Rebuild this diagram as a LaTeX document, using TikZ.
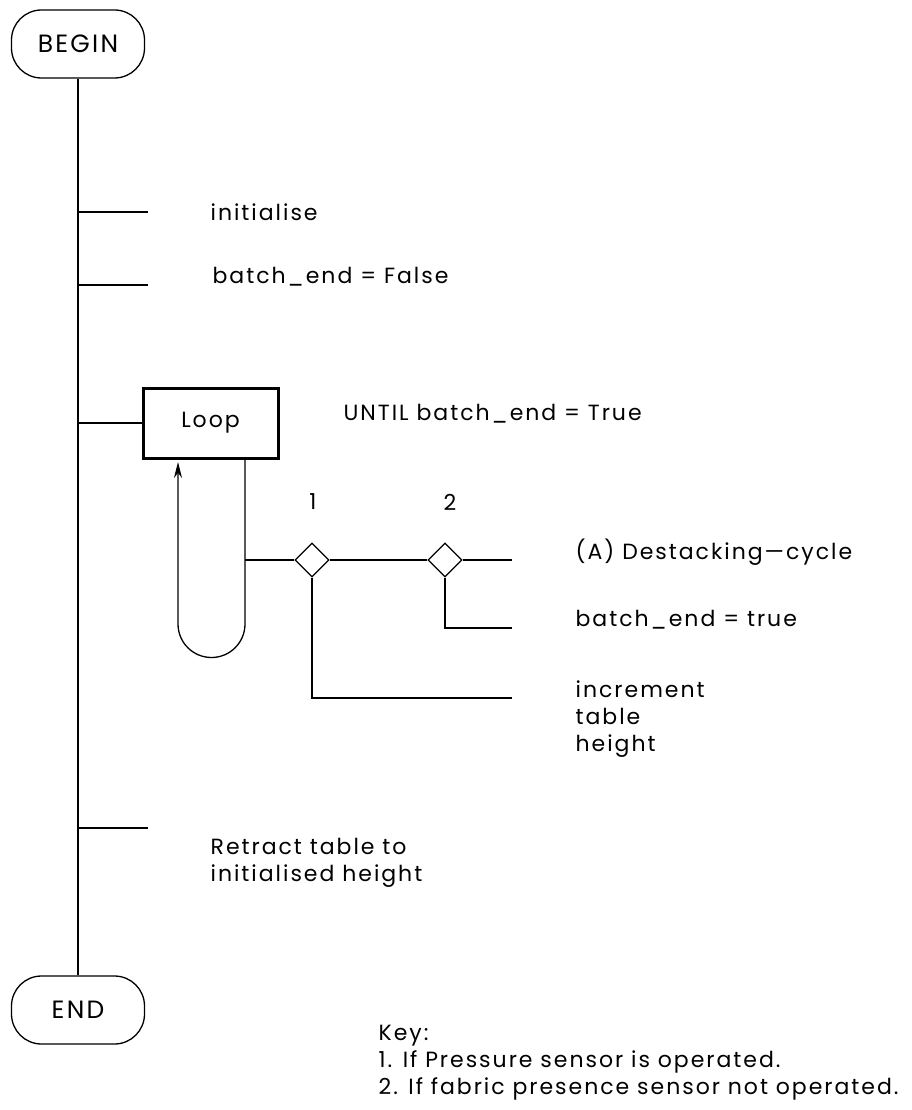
\documentclass[tikz,border=0pt]{standalone}
\usepackage{fontspec}
\setmainfont{Poppins}[LetterSpace=9]
\usetikzlibrary{shapes.geometric,arrows.meta}
\tikzset{
  txt/.style={font=\fontsize{22}{27}\selectfont, inner sep=0pt, anchor=west, align=left},
  term/.style={draw, rounded corners=30pt, minimum width=133pt, minimum height=68pt, font=\fontsize{25}{28}\selectfont, inner sep=0pt},
  loopbox/.style={draw, line width=3pt, minimum width=135pt, minimum height=70pt, font=\fontsize{22}{26}\selectfont, inner sep=0pt},
  dia/.style={draw, diamond, minimum size=34pt, inner sep=0pt}
}
\begin{document}
\begin{tikzpicture}[x=1pt,y=-1pt,line width=1.3pt]
\useasboundingbox (0,0) rectangle (912,1110);
\node[term] (begin) at (78,44) {BEGIN};
\node[term] (end) at (78,1010) {END};
\draw (begin.south) -- (end.north);

\coordinate (t1) at (78,212);
\coordinate (t2) at (78,285);
\coordinate (t4) at (78,828);
\draw (t1) -- ++(70,0);
\draw (t2) -- ++(70,0);
\draw (t4) -- ++(70,0);

\node[txt] (init) at (210,212) {initialise};
\node[txt] (bef) at (212,277) {batch\_end = False};
\node[txt, anchor=north west] (retr) at (210,838) {Retract table to\\initialised height};

\node[loopbox] (loop) at (210.5,423) {Loop};
\draw (loop.west -| begin.south) -- (loop.west);
\node[txt] (until) at (343,414) {UNTIL batch\_end = True};

\coordinate (uL) at (178,462);
\coordinate (uR) at (245,458);
\coordinate (br) at (245,560);
\draw[-{Stealth[length=16pt,width=8pt]}] (uR) -- (245,624) arc[start angle=0,end angle=180,radius=33.5] -- (uL);

\node[dia] (d1) at (312,560) {};
\node[dia] (d2) at (445,560) {};
\node[txt, anchor=center] (l1) at (313,502) {1};
\node[txt, anchor=center] (l2) at (450,502) {2};
\coordinate (e1) at (512,560);
\coordinate (e2) at (512,628);
\coordinate (e3) at (512,698);
\draw (br) -- (d1.west);
\draw (d1.east) -- (d2.west);
\draw (d2.east) -- (e1);
\draw (d2.south) |- (e2);
\draw (d1.south) |- (e3);

\node[txt] (dest) at (575,552) {(A) Destacking---cycle};
\node[txt] (bet) at (575,620) {batch\_end = true};
\node[txt, anchor=north west] (inc) at (575,680) {increment\\table\\height};

\node[txt, anchor=north west] (key) at (378,1025) {Key:\\1. If Pressure sensor is operated.\\2. If fabric presence sensor not operated.};
\end{tikzpicture}
\end{document}
